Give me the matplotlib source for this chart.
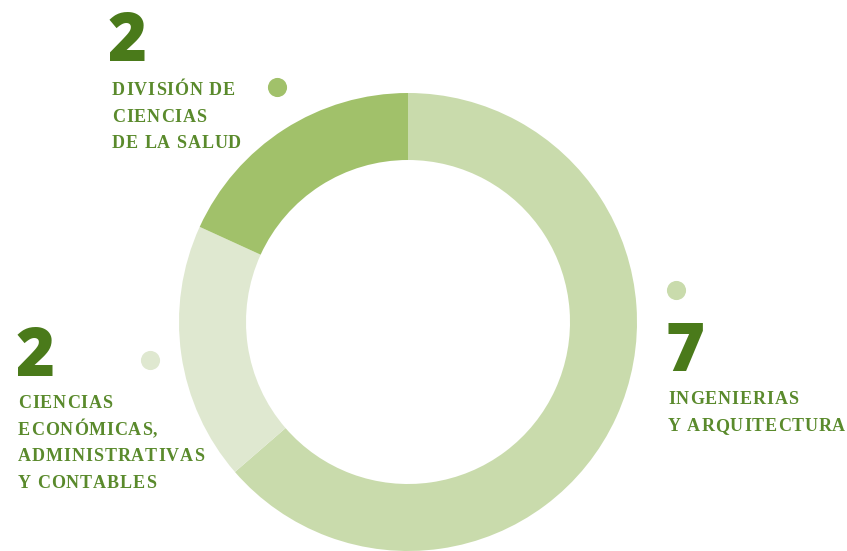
import matplotlib
matplotlib.use("Agg")
from matplotlib import pyplot as plt

# Programas por division
valores = [7, 2, 2]
colores = ['#c9dbac', '#dfe8d0', '#a1c16a']
numeros = ['7', '2', '2']
etiquetas = [
    ['INGENIERIAS', 'Y ARQUITECTURA'],
    ['CIENCIAS', 'ECONÓMICAS,', 'ADMINISTRATIVAS', 'Y CONTABLES'],
    ['DIVISIÓN DE', 'CIENCIAS', 'DE LA SALUD'],
]

W, H = 847, 551
VERDE_NUM = '#4a7a1a'
VERDE_TXT = '#5a8a2c'

fig = plt.figure(figsize=(W / 100, H / 100), dpi=100)
ax = fig.add_axes([0, 0, 1, 1])

# dona
ax.pie(valores, colors=colores, startangle=90, counterclock=False,
       center=(408, H - 322), radius=229,
       wedgeprops=dict(width=67, linewidth=0), frame=True)
ax.set_xlim(0, W)
ax.set_ylim(0, H)
ax.set_aspect('equal')
ax.axis('off')

renderer = fig.canvas.get_renderer()


def texto_espaciado(x, y, s, tracking=0.9, **kw):
    # dibuja letra por letra para simular el espaciado entre letras
    for ch in s:
        if ch == ' ':
            x += 4.5 + tracking
            continue
        t = ax.text(x, y, ch, va='baseline', ha='left', **kw)
        bb = t.get_window_extent(renderer=renderer)
        x += bb.width + tracking


# posiciones de cada bloque (pixeles, y desde arriba)
bloques = [
    dict(num_xy=(666, 371), txt_xy=(668, 404), punto=(676, 290)),
    dict(num_xy=(16, 376), txt_xy=(18, 408), punto=(150, 360)),
    dict(num_xy=(108, 61), txt_xy=(112, 95), punto=(277, 87)),
]

for i, b in enumerate(bloques):
    nx, ny = b['num_xy']
    ax.text(nx, H - ny, numeros[i], fontsize=48, fontweight='heavy',
            family='Open Sans', color=VERDE_NUM, va='baseline', ha='left')
    tx, ty = b['txt_xy']
    for k, linea in enumerate(etiquetas[i]):
        texto_espaciado(tx, H - (ty + k * 26.7), linea, fontsize=13,
                        family='Liberation Serif', fontweight='bold',
                        color=VERDE_TXT)
    px, py = b['punto']
    ax.scatter([px], [H - py], s=190, color=colores[i], linewidths=0)

fig.savefig('out.png', dpi=100)
